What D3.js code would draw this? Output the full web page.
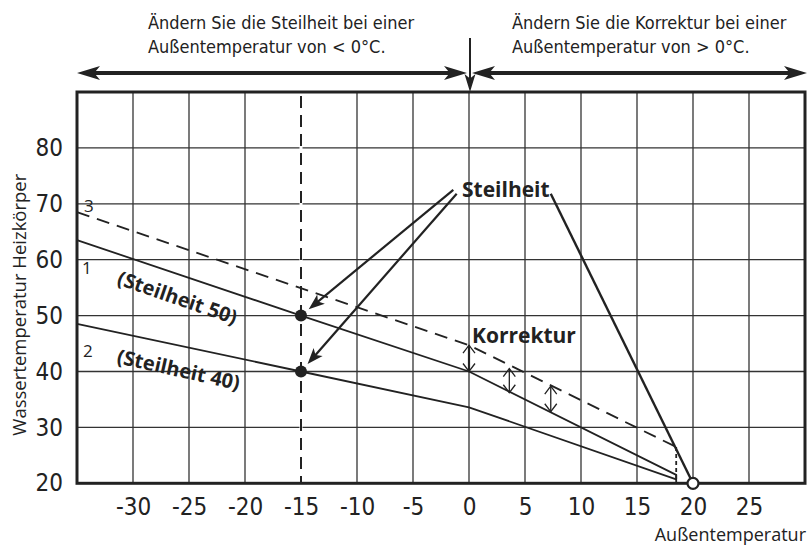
<!DOCTYPE html>
<html lang="de">
  <head>
    <meta charset="UTF-8">
    <title>Heizkurve</title>
    <script src="https://d3js.org/d3.v7.min.js"></script>
    <style>
      body { margin: 0; background: #fff; }
      .cond { font-family: "Liberation Sans Narrow", "DejaVu Sans Condensed", "Open Sans", sans-serif; fill: #222; }
      .reg { font-family: "Open Sans", "Noto Sans", sans-serif; fill: #222; }
      .bold { font-family: "Open Sans", "Noto Sans", sans-serif; font-weight: 700; fill: #222; }
    </style>
  </head>
  <body>
    <script>
      // values
      const xTicks = [-30, -25, -20, -15, -10, -5, 0, 5, 10, 15, 20, 25];
      const yTicks = [20, 30, 40, 50, 60, 70, 80];
      const curve1 = [[-35, 63.5], [-15, 50], [0, 40], [18.5, 21.5], [18.5, 20]];
      const curve2 = [[-35, 48.5], [-15, 40], [0, 33.6], [18.5, 20.7]];
      const curve3 = [[-35, 68.5], [0, 44.7], [18.5, 26.5]];
      const curve3Drop = [[18.5, 26.5], [18.5, 20]];
      const points = [[-15, 50], [-15, 40]];
      const pointStarts = [[-1.4, 72.5], [-1.1, 71.8]];
      const korrektur = [[0, 40, 44.7], [3.6, 36.2, 40.5], [7.3, 32.8, 37.4]];
      const zeroPoint = [20, 20];
      const steilLineStart = [7.3, 71.8];
      const markX = -15;
      const splitX = 0;

      const w = 808;
      const h = 545;

      const svg = d3.select("body")
        .append("svg")
        .attr("width", w)
        .attr("height", h);

      const x = d3.scaleLinear().domain([-35, 30]).range([77, 805]);
      const y = d3.scaleLinear().domain([20, 90]).range([483.3, 92]);

      // grid
      svg.append("g")
        .selectAll("line")
        .data(xTicks)
        .enter()
        .append("line")
        .attr("x1", d => x(d)).attr("x2", d => x(d))
        .attr("y1", y(90)).attr("y2", y(20))
        .attr("stroke", "#333").attr("stroke-width", 1.3);

      svg.append("g")
        .selectAll("line")
        .data(yTicks.slice(1))
        .enter()
        .append("line")
        .attr("x1", x(-35)).attr("x2", x(30))
        .attr("y1", d => y(d)).attr("y2", d => y(d))
        .attr("stroke", "#333").attr("stroke-width", 1.3);

      // white gap behind the dashed marker line, then the line
      svg.append("line")
        .attr("x1", x(markX)).attr("x2", x(markX))
        .attr("y1", y(90)).attr("y2", y(20))
        .attr("stroke", "#fff").attr("stroke-width", 3);
      svg.append("line")
        .attr("x1", x(markX)).attr("x2", x(markX))
        .attr("y1", y(90) + 4).attr("y2", y(20))
        .attr("stroke", "#222").attr("stroke-width", 2)
        .attr("stroke-dasharray", "12,7");

      // frame
      svg.append("rect")
        .attr("x", x(-35)).attr("y", y(90))
        .attr("width", x(30) - x(-35)).attr("height", y(20) - y(90))
        .attr("fill", "none").attr("stroke", "#222").attr("stroke-width", 3);

      // axes
      const xAxis = d3.axisBottom(x).tickValues(xTicks).tickSize(0).tickPadding(15)
        .tickFormat(d => String(d));
      const gx = svg.append("g")
        .attr("transform", `translate(0,${y(20)})`)
        .call(xAxis);
      gx.select(".domain").remove();
      gx.selectAll("text").attr("class", "cond").style("font-size", "24px").attr("fill", "#222");

      const yAxis = d3.axisLeft(y).tickValues(yTicks).tickSize(0).tickPadding(14);
      const gy = svg.append("g")
        .attr("transform", `translate(${x(-35)},0)`)
        .call(yAxis);
      gy.select(".domain").remove();
      gy.selectAll("text").attr("class", "cond").style("font-size", "24px").attr("fill", "#222");

      svg.append("text")
        .attr("class", "reg")
        .attr("transform", `translate(26,${(y(20) + y(90)) / 2 + 17}) rotate(-90)`)
        .attr("text-anchor", "middle")
        .style("font-size", "18.5px")
        .text("Wassertemperatur Heizkörper");

      svg.append("text")
        .attr("class", "reg")
        .attr("x", 806).attr("y", 541)
        .attr("text-anchor", "end")
        .style("font-size", "18px")
        .text("Außentemperatur");

      // curves
      const line = d3.line().x(d => x(d[0])).y(d => y(d[1]));

      svg.append("path").datum(curve1).attr("d", line)
        .attr("fill", "none").attr("stroke", "#222").attr("stroke-width", 1.8);
      svg.append("path").datum(curve2).attr("d", line)
        .attr("fill", "none").attr("stroke", "#222").attr("stroke-width", 1.8);
      svg.append("path").datum(curve3).attr("d", line)
        .attr("fill", "none").attr("stroke", "#222").attr("stroke-width", 1.8)
        .attr("stroke-dasharray", "13,8");
      svg.append("path").datum(curve3Drop).attr("d", line)
        .attr("fill", "none").attr("stroke", "#222").attr("stroke-width", 1.8)
        .attr("stroke-dasharray", "4,3");

      // arrow helpers
      function solidHead(tx, ty, ang, len, hw) {
        const c = Math.cos(ang), s = Math.sin(ang);
        const bx = tx - c * len, by = ty - s * len;
        const nx = tx - c * len * 0.75, ny = ty - s * len * 0.75;
        svg.append("path")
          .attr("d", `M${tx},${ty}L${bx - s * hw},${by + c * hw}L${nx},${ny}L${bx + s * hw},${by - c * hw}Z`)
          .attr("fill", "#222");
      }
      function openHead(tx, ty, ang, len, hw) {
        const c = Math.cos(ang), s = Math.sin(ang);
        const bx = tx - c * len, by = ty - s * len;
        svg.append("path")
          .attr("d", `M${bx - s * hw},${by + c * hw}L${tx},${ty}L${bx + s * hw},${by - c * hw}`)
          .attr("fill", "none").attr("stroke", "#222").attr("stroke-width", 1.3);
      }

      // Steilheit arrows
      points.forEach((p, i) => {
        const sx = x(pointStarts[i][0]), sy = y(pointStarts[i][1]);
        const px = x(p[0]), py = y(p[1]);
        const ang = Math.atan2(py - sy, px - sx);
        const tx = px - Math.cos(ang) * 10, ty = py - Math.sin(ang) * 10;
        svg.append("line")
          .attr("x1", sx).attr("y1", sy)
          .attr("x2", tx - Math.cos(ang) * 10).attr("y2", ty - Math.sin(ang) * 10)
          .attr("stroke", "#222").attr("stroke-width", 2.2);
        solidHead(tx, ty, ang, 16, 6);
      });

      svg.selectAll("circle.pt")
        .data(points)
        .enter()
        .append("circle")
        .attr("class", "pt")
        .attr("cx", d => x(d[0])).attr("cy", d => y(d[1]))
        .attr("r", 6).attr("fill", "#222");

      // line from label to 20°C
      {
        const sx = x(steilLineStart[0]), sy = y(steilLineStart[1]);
        const ex = x(zeroPoint[0]), ey = y(zeroPoint[1]);
        const ang = Math.atan2(ey - sy, ex - sx);
        svg.append("line")
          .attr("x1", sx).attr("y1", sy)
          .attr("x2", ex - Math.cos(ang) * 6).attr("y2", ey - Math.sin(ang) * 6)
          .attr("stroke", "#222").attr("stroke-width", 2.4);
        svg.append("circle")
          .attr("cx", ex).attr("cy", ey).attr("r", 5.5)
          .attr("fill", "#fff").attr("stroke", "#222").attr("stroke-width", 2.2);
      }

      // Korrektur arrows
      korrektur.forEach((k, i) => {
        const kx = x(k[0]), y0 = y(k[1]), y1 = y(k[2]);
        svg.append("line")
          .attr("x1", kx).attr("x2", kx).attr("y1", y0).attr("y2", y1)
          .attr("stroke", "#222").attr("stroke-width", i === 0 ? 2.2 : 1.3);
        openHead(kx, y1, -Math.PI / 2, 8, 6);
        openHead(kx, y0, Math.PI / 2, 8, 6);
      });

      // labels
      svg.append("text").attr("class", "bold").attr("x", 462).attr("y", 197)
        .style("font-size", "21px").text("Steilheit");
      svg.append("text").attr("class", "bold").attr("x", 472).attr("y", 343)
        .style("font-size", "21px").text("Korrektur");
      svg.append("text").attr("class", "bold")
        .attr("transform", "translate(116,284) rotate(19)")
        .style("font-size", "20px").text("(Steilheit 50)");
      svg.append("text").attr("class", "bold")
        .attr("transform", "translate(116,363) rotate(12.5)")
        .style("font-size", "20px").text("(Steilheit 40)");

      svg.append("text").attr("class", "reg").attr("x", 82).attr("y", 274)
        .style("font-size", "17px").text("1");
      svg.append("text").attr("class", "reg").attr("x", 83).attr("y", 357)
        .style("font-size", "17px").text("2");
      svg.append("text").attr("class", "reg").attr("x", 84).attr("y", 212)
        .style("font-size", "17px").text("3");

      // top explanation with arrows
      const topY = 73;
      const shaft = (x1, x2) => svg.append("line")
        .attr("x1", x1).attr("x2", x2).attr("y1", topY).attr("y2", topY)
        .attr("stroke", "#222").attr("stroke-width", 4);
      shaft(x(-35) + 15, x(splitX) - 18);
      solidHead(x(-35), topY, Math.PI, 23, 7);
      solidHead(x(splitX) - 2, topY, 0, 23, 7);
      shaft(x(splitX) + 18, x(30) - 15);
      solidHead(x(splitX) + 3, topY, Math.PI, 23, 7);
      solidHead(x(30) + 2, topY, 0, 23, 7);

      svg.append("line")
        .attr("x1", x(splitX) + 1).attr("x2", x(splitX) + 1)
        .attr("y1", 38).attr("y2", 80)
        .attr("stroke", "#222").attr("stroke-width", 2);
      solidHead(x(splitX) + 1, y(90), Math.PI / 2, 18, 5.5);

      const topText = [
        ["Ändern Sie die Steilheit bei einer", "Außentemperatur von < 0°C."],
        ["Ändern Sie die Korrektur bei einer", "Außentemperatur von > 0°C."]
      ];
      const topX = [148, 512];
      topText.forEach((lines, i) => {
        lines.forEach((t, j) => {
          svg.append("text").attr("class", "cond")
            .attr("x", topX[i]).attr("y", 29 + j * 24)
            .style("font-size", "18px").text(t);
        });
      });
    </script>
  </body>
</html>
